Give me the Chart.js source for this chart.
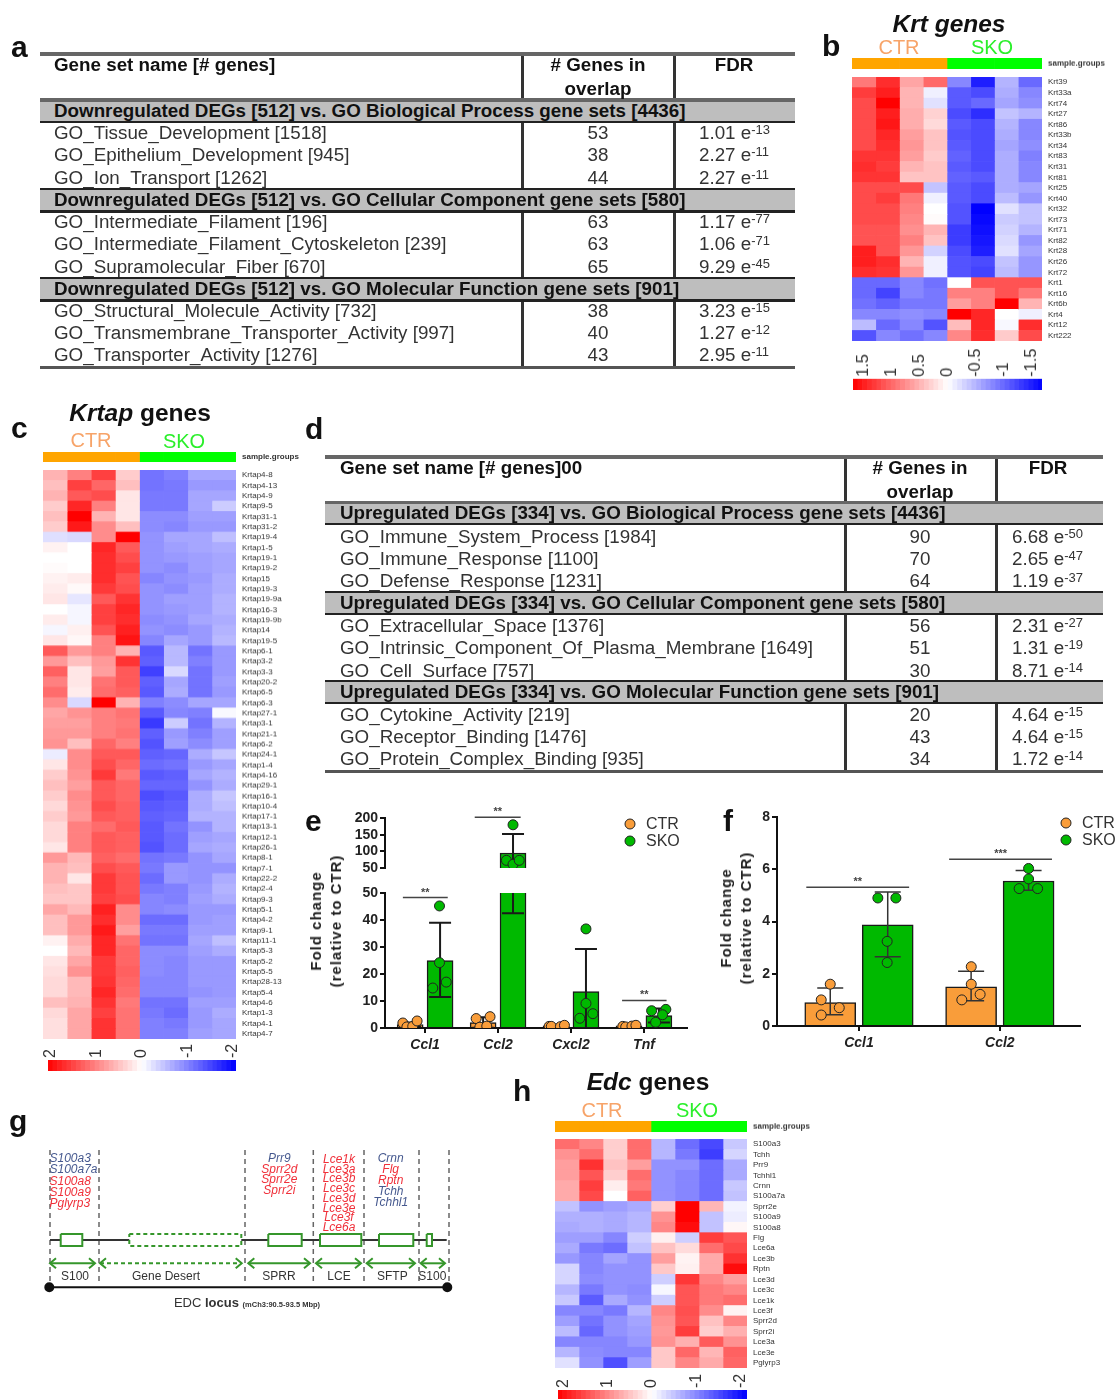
<!DOCTYPE html>
<html>
<head>
<meta charset="utf-8">
<title>Skin gene expression figure</title>
<script src="https://cdn.jsdelivr.net/npm/chart.js@4"></script>
<style>
    html, body { margin: 0; background: #fff; }
    #page { position: relative; width: 1120px; height: 1399px; overflow: hidden; font-family: 'Liberation Sans', Arial, sans-serif; color: #222; filter: blur(0.4px); }
    #page canvas { position: absolute; }
    .txt { position: absolute; white-space: nowrap; transform: translateY(-50%); }
    .mid { transform: translate(-50%, -50%); }
    .rot { transform: translate(-50%, -50%) rotate(-90deg); font-weight: bold; text-align: center; line-height: 20px; letter-spacing: 1px; font-size: 15px; }
    .rule { position: absolute; }
    .tbl { font-size: 18.8px; color: #333; }
    .tbl b { color: #111; }
    .tbl sup { font-size: 13px; line-height: 0; vertical-align: 5px; }
    .letter { font-size: 30px; font-weight: bold; color: #111; }
    .head { font-size: 24.5px; font-weight: bold; color: #111; }
    .dot { position: absolute; width: 9px; height: 9px; border: 1px solid #222; border-radius: 50%; transform: translate(-50%, -50%); }
</style>
</head>
<body>
<div id="page"></div>
<script>
// table a
const tableAHeader = ['Gene set name [# genes]', '# Genes in', 'overlap', 'FDR'];
const tableABands = [
    'Downregulated DEGs [512] vs. GO Biological Process gene sets [4436]',
    'Downregulated DEGs [512] vs. GO Cellular Component gene sets [580]',
    'Downregulated DEGs [512] vs. GO Molecular Function gene sets [901]'
];
const tableANames = ['GO_Tissue_Development [1518]', 'GO_Epithelium_Development [945]', 'GO_Ion_Transport [1262]',
    'GO_Intermediate_Filament [196]', 'GO_Intermediate_Filament_Cytoskeleton [239]', 'GO_Supramolecular_Fiber [670]',
    'GO_Structural_Molecule_Activity [732]', 'GO_Transmembrane_Transporter_Activity [997]', 'GO_Transporter_Activity [1276]'];
const tableACounts = [53, 38, 44, 63, 63, 65, 38, 40, 43];
const tableAFdr = [['1.01', '-13'], ['2.27', '-11'], ['2.27', '-11'], ['1.17', '-77'], ['1.06', '-71'], ['9.29', '-45'], ['3.23', '-15'], ['1.27', '-12'], ['2.95', '-11']];

// table d
const tableDHeader = ['Gene set name [# genes]00', '# Genes in', 'overlap', 'FDR'];
const tableDBands = [
    'Upregulated DEGs [334] vs. GO Biological Process gene sets [4436]',
    'Upregulated DEGs [334] vs. GO Cellular Component gene sets [580]',
    'Upregulated DEGs [334] vs. GO Molecular Function gene sets [901]'
];
const tableDNames = ['GO_Immune_System_Process [1984]', 'GO_Immune_Response [1100]', 'GO_Defense_Response [1231]',
    'GO_Extracellular_Space [1376]', 'GO_Intrinsic_Component_Of_Plasma_Membrane [1649]', 'GO_Cell_Surface [757]',
    'GO_Cytokine_Activity [219]', 'GO_Receptor_Binding [1476]', 'GO_Protein_Complex_Binding [935]'];
const tableDCounts = [90, 70, 64, 56, 51, 30, 20, 43, 34];
const tableDFdr = [['6.68', '-50'], ['2.65', '-47'], ['1.19', '-37'], ['2.31', '-27'], ['1.31', '-19'], ['8.71', '-14'], ['4.64', '-15'], ['4.64', '-15'], ['1.72', '-14']];

// heatmap b
const krtGenes = ['Krt39', 'Krt33a', 'Krt74', 'Krt27', 'Krt86', 'Krt33b', 'Krt34', 'Krt83', 'Krt31', 'Krt81', 'Krt25', 'Krt40', 'Krt32', 'Krt73', 'Krt71', 'Krt82', 'Krt28', 'Krt26', 'Krt72', 'Krt1', 'Krt16', 'Krt6b', 'Krt4', 'Krt12', 'Krt222'];
const krtValues = [
    [.9, 1.4, .6, 1.0, -.8, -1.5, -.5, -1.0],
    [1.3, 1.5, .5, -.1, -1.1, -1.2, -.55, -.8],
    [1.2, 1.7, .5, -.2, -1.1, -1.0, -.6, -.75],
    [1.2, 1.5, .55, .3, -1.2, -1.4, -.4, -.5],
    [1.2, 1.55, .55, .25, -1.1, -1.2, -.5, -.8],
    [1.2, 1.45, .65, .4, -1.15, -1.2, -.55, -.8],
    [1.2, 1.4, .7, .4, -1.1, -1.2, -.6, -.75],
    [1.35, 1.35, .65, .35, -1.05, -1.2, -.55, -.85],
    [1.4, 1.3, .5, .4, -1.1, -1.2, -.55, -.8],
    [1.35, 1.35, .4, .4, -1.05, -1.1, -.55, -.8],
    [1.2, 1.2, 1.2, -.4, -1.1, -1.2, -.55, -.6],
    [1.2, 1.3, .9, -.1, -1.1, -1.2, -.45, -.7],
    [1.2, 1.2, .85, 0, -1.15, -1.7, -.2, -.4],
    [1.2, 1.2, .8, .03, -1.15, -1.65, -.35, -.4],
    [1.15, 1.15, .75, .5, -1.3, -1.6, -.3, -.5],
    [1.15, 1.15, .85, .4, -1.3, -1.55, -.25, -.7],
    [1.5, 1.15, .7, -.3, -1.2, -1.5, -.2, -.6],
    [1.5, 1.4, .5, -.1, -1.15, -1.2, -.4, -.7],
    [1.4, 1.35, .7, -.1, -1.15, -1.25, -.45, -.7],
    [-1, -1, -.8, -.95, 0, 1.15, 1.15, 1.15],
    [-1, -1.25, -.8, -.9, .85, .85, 1.15, .9],
    [-.95, -1.05, -.9, -.9, .65, .85, 1.7, .5],
    [-.8, -.8, -.75, -.8, 1.7, 1.45, 0, -.1],
    [-.45, -1, -.8, -1.15, .45, 1.45, -.05, 1.4],
    [-1.15, -.8, -.95, -.8, .8, 1.4, .35, 1.2]
];

// heatmap c
const krtapGenes = ['Krtap4-8', 'Krtap4-13', 'Krtap4-9', 'Krtap9-5', 'Krtap31-1', 'Krtap31-2', 'Krtap19-4', 'Krtap1-5', 'Krtap19-1', 'Krtap19-2', 'Krtap15', 'Krtap19-3', 'Krtap19-9a', 'Krtap16-3', 'Krtap19-9b', 'Krtap14', 'Krtap19-5', 'Krtap6-1', 'Krtap3-2', 'Krtap3-3', 'Krtap20-2', 'Krtap6-5', 'Krtap6-3', 'Krtap27-1', 'Krtap3-1', 'Krtap21-1', 'Krtap6-2', 'Krtap24-1', 'Krtap1-4', 'Krtap4-16', 'Krtap29-1', 'Krtap16-1', 'Krtap10-4', 'Krtap17-1', 'Krtap13-1', 'Krtap12-1', 'Krtap26-1', 'Krtap8-1', 'Krtap7-1', 'Krtap22-2', 'Krtap2-4', 'Krtap9-3', 'Krtap5-1', 'Krtap4-2', 'Krtap9-1', 'Krtap11-1', 'Krtap5-3', 'Krtap5-2', 'Krtap5-5', 'Krtap28-13', 'Krtap5-4', 'Krtap4-6', 'Krtap1-3', 'Krtap4-1', 'Krtap4-7'];
const krtapValues = [
    [.6, 1.0, 1.5, .4, -1.1, -1.0, -.7, -.7],
    [.5, 1.5, 1.2, .5, -1.1, -1.05, -.8, -.8],
    [.6, 1.3, 1.4, .2, -1.05, -1.05, -.7, -.7],
    [.4, 1.7, 1.0, .2, -1.05, -1.05, -.7, -.4],
    [.5, 2, .6, .2, -.9, -.9, -.75, -.75],
    [.4, 1.8, .9, .5, -.9, -.95, -.8, -.8],
    [-.25, -.3, .9, 2, -.85, -.7, -.7, -.5],
    [.1, 0, 1.7, 1.3, -.85, -.75, -.7, -.65],
    [0, 0, 1.65, 1.4, -.85, -.8, -.75, -.7],
    [.03, 0, 1.65, 1.5, -.85, -.9, -.75, -.7],
    [.1, .15, 1.65, 1.35, -.95, -.85, -.8, -.65],
    [.15, .05, 1.55, 1.4, -.85, -.9, -.75, -.65],
    [.2, -.2, 1.3, 1.6, -.85, -.75, -.75, -.6],
    [0, -.07, 1.5, 1.7, -.85, -.8, -.75, -.6],
    [.15, -.07, 1.5, 1.65, -.9, -.85, -.7, -.65],
    [-.07, .12, 1.35, 1.75, -.85, -.9, -.8, -.6],
    [.2, .06, 1.0, 1.85, -.95, -.7, -.8, -.55],
    [1.3, .8, 1.0, .6, -1.3, -.55, -1.1, -.8],
    [.8, .5, .8, 1.6, -1.25, -.55, -1.0, -.8],
    [1.25, .2, .75, 1.3, -1.5, -.3, -1.1, -.8],
    [1.0, .2, 1.1, 1.3, -1.25, -.7, -1.1, -.75],
    [1.15, .15, 1.15, 1.25, -1.3, -.65, -1.1, -.8],
    [.9, -.3, 2, .6, -1, -.9, -.7, -.7],
    [.7, .85, 1.0, 1.1, -1.3, -.95, -1.0, -.05],
    [.75, .75, 1.0, 1.05, -1.55, -.4, -1.1, -.6],
    [.8, .8, 1.0, 1.1, -1.25, -.8, -1.0, -.75],
    [.85, .5, 1.2, 1.0, -1.35, -.75, -.9, -.75],
    [-.15, .9, 1.3, 1.3, -1.25, -1.2, -.65, -.45],
    [.2, .9, 1.4, 1.2, -1.15, -1.1, -.8, -.7],
    [.4, .85, 1.55, 1.05, -1.3, -1.25, -.7, -.6],
    [.5, .75, 1.3, 1.2, -1.2, -1.2, -.85, -.65],
    [.4, .9, 1.3, 1.2, -1.4, -1.3, -.65, -.45],
    [.3, .85, 1.4, 1.25, -1.3, -1.25, -.65, -.5],
    [.4, .8, 1.3, 1.25, -1.25, -1.2, -.6, -.6],
    [.3, 1, 1.15, 1.3, -1.3, -1.1, -.85, -.6],
    [.3, 1, 1.3, 1.25, -1.3, -1.15, -.75, -.7],
    [.2, 1, 1.3, 1.25, -1.35, -1.15, -.7, -.65],
    [.8, .55, 1.25, 1.15, -1.1, -1.05, -.85, -.7],
    [.6, .5, 1.4, 1.3, -1.05, -.8, -.85, -.85],
    [.6, .2, 1.55, 1.35, -1.15, -.8, -.85, -.65],
    [.5, .45, 1.55, 1.35, -1.05, -1, -.8, -.6],
    [.45, .45, 1.5, 1.4, -.95, -1, -.75, -.65],
    [.7, .55, 1.75, .9, -.95, -.9, -.8, -.8],
    [.5, .8, 1.65, .9, -1.15, -1.15, -.8, -.75],
    [.5, .8, 1.8, .75, -1.05, -1.05, -.75, -.75],
    [.1, .65, 1.7, 1.1, -1.1, -1.1, -.7, -.5],
    [0, .55, 1.7, 1.2, -.9, -.9, -.75, -.65],
    [.2, .7, 1.55, 1.2, -.9, -.95, -.8, -.8],
    [.25, .85, 1.55, 1.25, -.9, -.95, -.8, -.8],
    [.3, .55, 1.6, 1.2, -.95, -.95, -.8, -.8],
    [.3, .55, 1.7, 1.15, -.95, -.95, -.85, -.8],
    [.5, .6, 1.6, 1.05, -1.1, -1.1, -.75, -.75],
    [.3, .7, 1.5, 1.1, -1.05, -1.15, -.8, -.65],
    [.25, .7, 1.6, 1.1, -1.0, -1.05, -.8, -.7],
    [.25, .7, 1.6, 1.1, -1.0, -1, -.75, -.7]
];

// heatmap h
const edcGenes = ['S100a3', 'Tchh', 'Prr9', 'Tchhl1', 'Crnn', 'S100a7a', 'Sprr2e', 'S100a9', 'S100a8', 'Flg', 'Lce6a', 'Lce3b', 'Rptn', 'Lce3d', 'Lce3c', 'Lce1k', 'Lce3f', 'Sprr2d', 'Sprr2i', 'Lce3a', 'Lce3e', 'Pglyrp3'];
const edcValues = [
    [1.2, 1.0, .4, 1.2, -.6, -1.2, -1.5, -.45],
    [.9, 1.2, .4, 1.2, -.6, -1.1, -1.6, -.35],
    [.8, 1.7, .5, .8, -.9, -.9, -1.2, -.7],
    [.8, 1.4, .4, 1.2, -.9, -1, -1.2, -.7],
    [.7, 1.6, .15, 1.1, -.9, -1, -1.2, -.45],
    [.7, 1.5, 0, 1.3, -.9, -1, -1.2, -.5],
    [-.5, -.9, -.8, -.7, .4, 2.1, .6, -.1],
    [-.65, -.65, -.7, -.6, .9, 2.1, -.5, -.15],
    [-.7, -.65, -.7, -.6, 1.0, 2.0, -.5, .07],
    [-.8, -.8, -1, -.4, .12, -.4, 1.6, 1.4],
    [-.7, -1.1, -1.2, -.5, .5, .3, 1.2, 1.5],
    [-.85, -1, -.75, -.9, .8, .1, .7, 1.7],
    [-.35, -1, -.9, -.9, .45, .12, .7, 2],
    [-.35, -.95, -.9, -.9, -.4, 1.65, 1, .8],
    [-.6, -1.1, -.9, -.95, -.07, 1.4, 1.1, 1.0],
    [-.45, -1.35, -.7, -.9, -.4, 1.4, 1.1, 1.2],
    [-1, -1, -1.1, -.6, 1, 1.45, .95, .1],
    [-.8, -1.15, -.9, -.75, .9, 1.4, .5, 1],
    [-.55, -1.25, -.9, -.8, .85, 1.6, .4, .65],
    [-1, -1, -1, -.85, .9, .65, 1.35, .9],
    [-.6, -.95, -1, -1, .45, 1.25, .6, 1.3],
    [-.25, -.9, -1.45, -.8, .45, 1, .7, 1.25]
];

// color key steps, as a share of the key's range
const keyLevels = [-1, -.95, -.9, -.85, -.8, -.75, -.7, -.65, -.6, -.55, -.5, -.45, -.4, -.35, -.3, -.25, -.2, -.15, -.1, -.05, 0, .05, .1, .15, .2, .25, .3, .35, .4, .45, .5, .55, .6, .65, .7, .75, .8, .85, .9, .95, 1];
const krtKeyTicks = [1.5, 1, 0.5, 0, -0.5, -1, -1.5];
const wideKeyTicks = [2, 1, 0, -1, -2];
const sampleGroups = ['CTR', 'CTR', 'CTR', 'CTR', 'SKO', 'SKO', 'SKO', 'SKO'];

// bars e
const eGenes = ['Ccl1', 'Ccl2', 'Cxcl2', 'Tnf'];
const eCtrMean = [1.3, 2, 0.8, 0.8];
const eCtrLow = [0.6, 0.1, 0.5, 0.5];
const eCtrHigh = [2, 4, 1.1, 1.1];
const eSkoMean = [25, 95, 13.5, 4.6];
const eSkoLow = [11.5, 42.5, 0, 2];
const eSkoHigh = [39, 152, 29.3, 7.2];
const eCtrPoints = [[-.305, 1.85], [-.25, .4], [-.17, .6], [-.11, 2.6], [.70, 3.5], [.75, .3], [.845, .7], [.89, 4.2],
    [1.70, .6], [1.73, .6], [1.855, .5], [1.91, 1], [2.71, .6], [2.75, .4], [2.835, .7], [2.89, 1]];
const eSkoPoints = [[.197, 45.2], [.197, 24.2], [.105, 14.8], [.29, 17], [1.205, 179.6], [1.114, 73], [1.205, 61], [1.29, 73],
    [2.205, 36.7], [2.205, 9.1], [2.12, 3.6], [2.30, 5.3], [3.105, 6.4], [3.30, 6.9], [3.255, 4.9], [3.16, 2.1]];
const eLowerSig = [[-.305, .31, 48.3, '**'], [2.7, 3.31, 10.2, '**']];
const eUpperSig = [[.68, 1.31, 201.9, '**']];

// bars f
const fGenes = ['Ccl1', 'Ccl2'];
const fCtrMean = [0.9, 1.5];
const fCtrLow = [0.43, 0.97];
const fCtrHigh = [1.45, 2.1];
const fSkoMean = [3.87, 5.55];
const fSkoLow = [2.65, 5.2];
const fSkoHigh = [5.13, 5.95];
const fCtrPoints = [[-.204, 1.6], [-.268, 1.0], [-.14, .7], [-.268, .42], [.797, 2.27], [.797, 1.6], [.86, 1.21], [.73, 1.0]];
const fSkoPoints = [[.134, 4.9], [.262, 4.9], [.2, 3.24], [.2, 2.43], [1.204, 6.03], [1.204, 5.63], [1.137, 5.26], [1.268, 5.26]];
const fSig = [[-.374, .356, 5.31, '**'], [.64, 1.37, 6.38, '***']];

// locus g
const locusSeparators = [50, 99, 245, 313.3, 364, 419, 449];
const locusBoxes = [[60.7, 82.3], [129.3, 241.3], [268.3, 301.7], [320, 361.3], [379, 413.3], [426.7, 432]];
const locusSpans = [[50, 95], [100, 241.7], [248.3, 310], [316, 361], [366.7, 415], [420.7, 445]];
const locusSpanNames = ['S100', 'Gene Desert', 'SPRR', 'LCE', 'SFTP', 'S100'];
const locusSpanCentres = [75, 166, 279, 339, 392.3, 432.3];
const s100Genes = ['S100a3', 'S100a7a', 'S100a8', 'S100a9', 'Pglyrp3'];
const sprrGenes = ['Prr9', 'Sprr2d', 'Sprr2e', 'Sprr2i'];
const lceGenes = ['Lce1k', 'Lce3a', 'Lce3b', 'Lce3c', 'Lce3d', 'Lce3e', 'Lce3f', 'Lce6a'];
const sftpGenes = ['Crnn', 'Flg', 'Rptn', 'Tchh', 'Tchhl1'];
const locusBlue = ['S100a3', 'S100a7a', 'Prr9', 'Crnn', 'Tchh', 'Tchhl1'];

const ORANGE = '#F99D3A';
const GREEN = '#00B900';
const FONT = "'Liberation Sans', Arial, sans-serif";
Chart.defaults.font.family = FONT;
Chart.defaults.animation = false;
Chart.defaults.plugins.legend.display = false;
Chart.defaults.plugins.tooltip.enabled = false;

const page = document.getElementById('page');

function addText(html, x, y, cls, style) {
    const el = document.createElement('div');
    el.className = 'txt ' + (cls || '');
    el.innerHTML = html;
    el.style.left = x + 'px';
    el.style.top = y + 'px';
    if (style) el.style.cssText += style;
    page.appendChild(el);
    return el;
}

function addRule(x, y, w, h, color) {
    const el = document.createElement('div');
    el.className = 'rule';
    el.style.cssText = `left:${x}px;top:${y}px;width:${w}px;height:${h}px;background:${color}`;
    page.appendChild(el);
}

function addCanvas(left, top, width, height) {
    const c = document.createElement('canvas');
    c.width = width;
    c.height = height;
    c.style.left = left + 'px';
    c.style.top = top + 'px';
    c.style.width = width + 'px';
    c.style.height = height + 'px';
    page.appendChild(c);
    return c;
}

// keeps the axis from pushing the plot area around
function fixSize(size) {
    return function(scale) {
        if (scale.isHorizontal()) scale.height = size;
        else scale.width = size;
        scale.paddingTop = scale.paddingBottom = scale.paddingLeft = scale.paddingRight = 0;
    };
}

function buildTable(t) {
    const left = t.left, width = t.right - t.left;
    addRule(t.sep1, t.top, 2.5, t.bottom - t.top, '#333');
    addRule(t.sep2, t.top, 2.5, t.bottom - t.top, '#333');
    addRule(left, t.top, width, 3.5, '#666');
    t.bandTops.forEach((y, i) => {
        addRule(left, y, width, t.bandHeight, '#BEBEBE');
        addRule(left, y - 2, width, i === 0 ? 3.5 : 2.5, i === 0 ? '#666' : '#222');
        addRule(left, y + t.bandHeight - 1, width, 2.5, '#222');
        addText('<b>' + t.bands[i] + '</b>', t.textX, y + t.bandHeight / 2, 'tbl');
    });
    addRule(left, t.bottom, width, 3, '#555');
    addText('<b>' + t.header[0] + '</b>', t.textX, t.headY, 'tbl');
    addText('<b>' + t.header[1] + '</b>', t.countX, t.headY, 'tbl mid');
    addText('<b>' + t.header[2] + '</b>', t.countX, t.headY + 24, 'tbl mid');
    addText('<b>' + t.header[3] + '</b>', t.fdrHeadX, t.headY, 'tbl mid');
    t.names.forEach((name, i) => {
        addText(name, t.textX, t.rowYs[i], 'tbl');
        addText(t.counts[i], t.countX, t.rowYs[i], 'tbl mid');
        addText(t.fdr[i][0] + ' e<sup>' + t.fdr[i][1] + '</sup>', t.fdrX, t.rowYs[i], 'tbl');
    });
}

buildTable({
    left: 40, right: 795, sep1: 521, sep2: 673, top: 52, bottom: 366, textX: 54, countX: 598, fdrX: 699, fdrHeadX: 734, headY: 65,
    bandTops: [100, 189.5, 278.5], bandHeight: 21.5, rowYs: [133, 155, 178, 222, 244, 267, 311, 333, 355],
    header: tableAHeader, bands: tableABands, names: tableANames, counts: tableACounts, fdr: tableAFdr
});
buildTable({
    left: 325, right: 1103, sep1: 844, sep2: 995, top: 455, bottom: 770, textX: 340, countX: 920, fdrX: 1012, fdrHeadX: 1048, headY: 468,
    bandTops: [502.5, 592.5, 681.5], bandHeight: 21, rowYs: [537, 559, 581, 626, 648, 671, 715, 737, 759],
    header: tableDHeader, bands: tableDBands, names: tableDNames, counts: tableDCounts, fdr: tableDFdr
});

// panel letters
[['a', 11, 47], ['b', 822, 46], ['c', 11, 428], ['d', 305, 429], ['e', 305, 821], ['f', 723, 821], ['g', 9, 1121], ['h', 513, 1091]].forEach(l => {
    addText(l[0], l[1], l[2], 'letter');
});

// titles and group names
addText('<i>Krt genes</i>', 949, 24, 'head mid');
addText('<i>Krtap</i> genes', 140, 413, 'head mid');
addText('<i>Edc</i> genes', 648, 1082, 'head mid');
[[899, 47, 992, 47], [91, 440, 184, 441], [602, 1110, 697, 1110]].forEach(p => {
    addText('CTR', p[0], p[1], 'mid', 'font-size:20px;color:#F7A469');
    addText('SKO', p[2], p[3], 'mid', 'font-size:20px;color:#2BEF2B');
});

function heatColor(v, max) {
    const t = Math.min(1, Math.abs(v) / max);
    const c = Math.round(255 * (1 - t));
    return v >= 0 ? `rgb(255,${c},${c})` : `rgb(${c},${c},255)`;
}

function cellDatasets(rows, colorOf) {
    return rows[0].map((_, col) => ({
        data: rows.map(() => [col, col + 1]),
        backgroundColor: rows.map(r => colorOf(r[col])),
        barPercentage: 1,
        categoryPercentage: 1,
        grouped: false,
        borderWidth: 0
    }));
}

function heatChart(box, labels, rows, colorOf, tickFont) {
    const margin = 70;
    new Chart(addCanvas(box.left, box.top, box.width + margin, box.height), {
        type: 'bar',
        data: { labels: labels, datasets: cellDatasets(rows, colorOf) },
        options: {
            indexAxis: 'y',
            responsive: false,
            devicePixelRatio: 1,
            layout: { padding: 0 },
            scales: {
                x: { type: 'linear', display: false, min: 0, max: 8 },
                y: {
                    position: 'right',
                    afterFit: fixSize(margin),
                    grid: { display: false, drawTicks: false },
                    border: { display: false },
                    ticks: { autoSkip: false, padding: 6, color: '#333', font: tickFont }
                }
            }
        }
    });
}

function keyChart(box, ticks, range, xMin, xMax) {
    const topMargin = 38;
    const levels = keyLevels.map(l => l * range);
    const datasets = levels.slice(1).map((lv, i) => ({
        data: [[levels[i], lv]],
        backgroundColor: heatColor((levels[i] + lv) / 2, range),
        barPercentage: 1,
        categoryPercentage: 1,
        grouped: false,
        borderWidth: 0
    }));
    new Chart(addCanvas(box.left - 14, box.top - topMargin, box.width + 28, box.height + topMargin), {
        type: 'bar',
        data: { labels: ['key'], datasets: datasets },
        options: {
            indexAxis: 'y',
            responsive: false,
            devicePixelRatio: 1,
            layout: { padding: { left: 14, right: 14 } },
            scales: {
                x: {
                    type: 'linear',
                    position: 'top',
                    reverse: true,
                    min: xMin,
                    max: xMax,
                    afterFit: fixSize(topMargin),
                    afterBuildTicks: s => { s.ticks = ticks.map(v => ({ value: v })); },
                    grid: { display: false, drawTicks: false },
                    border: { display: false },
                    ticks: { autoSkip: false, minRotation: 90, maxRotation: 90, padding: 2, labelOffset: 19, color: '#333', font: { size: 16 }, callback: v => String(v) }
                },
                y: { display: false }
            }
        }
    });
}

function heatPanel(p) {
    const width = p.right - p.left;
    heatChart({ left: p.left, top: p.annotTop, width: width, height: p.annotHeight }, ['sample.groups'], [sampleGroups],
        g => (g === 'CTR' ? '#FFA500' : '#00FF00'), { size: 8, weight: 'bold' });
    heatChart({ left: p.left, top: p.top, width: width, height: p.bottom - p.top }, p.genes, p.values,
        v => heatColor(v, p.max), { size: 8 });
    keyChart({ left: p.keyLeft, top: p.keyTop, width: p.right - p.keyLeft, height: p.keyHeight }, p.ticks, p.range, p.keyMin, p.keyMax);
}

heatPanel({
    left: 852, right: 1042, top: 76.5, bottom: 340.5, annotTop: 58, annotHeight: 10.5, genes: krtGenes, values: krtValues, max: 1.7,
    keyLeft: 853, keyTop: 378, keyHeight: 11.5, ticks: krtKeyTicks, range: 1.7, keyMin: -1.68, keyMax: 1.7
});
heatPanel({
    left: 43, right: 236, top: 470, bottom: 1038.7, annotTop: 452, annotHeight: 10, genes: krtapGenes, values: krtapValues, max: 2,
    keyLeft: 48, keyTop: 1060, keyHeight: 11, ticks: wideKeyTicks, range: 2.07, keyMin: -2.07, keyMax: 2.07
});
heatPanel({
    left: 554.5, right: 747, top: 1139.3, bottom: 1368.3, annotTop: 1121, annotHeight: 10.5, genes: edcGenes, values: edcValues, max: 2.1,
    keyLeft: 558, keyTop: 1390, keyHeight: 9, ticks: wideKeyTicks, range: 2.15, keyMin: -2.15, keyMax: 2.14
});

// draws the error bars just after the bars so the points land on top
const errorBars = {
    id: 'errorBars',
    afterDatasetDraw(chart, args) {
        const ds = chart.data.datasets[args.index];
        if (!ds.errLow) return;
        const { ctx, chartArea, scales } = chart;
        ctx.save();
        ctx.beginPath();
        ctx.rect(chartArea.left - 20, chartArea.top, chartArea.right - chartArea.left + 40, chartArea.bottom - chartArea.top);
        ctx.clip();
        ctx.strokeStyle = ds.errColor;
        ctx.lineWidth = ds.errWidth;
        ds.data.forEach((d, i) => {
            const x = scales.x.getPixelForValue(d.x);
            const lo = scales.y.getPixelForValue(ds.errLow[i]);
            const hi = scales.y.getPixelForValue(ds.errHigh[i]);
            ctx.beginPath();
            ctx.moveTo(x, lo); ctx.lineTo(x, hi);
            ctx.moveTo(x - ds.capHalf, lo); ctx.lineTo(x + ds.capHalf, lo);
            ctx.moveTo(x - ds.capHalf, hi); ctx.lineTo(x + ds.capHalf, hi);
            ctx.stroke();
        });
        ctx.restore();
    }
};

const sigBars = {
    id: 'sigBars',
    afterDraw(chart, args, opts) {
        const { ctx, scales } = chart;
        ctx.save();
        ctx.strokeStyle = '#444';
        ctx.fillStyle = '#444';
        ctx.lineWidth = 1.5;
        ctx.textAlign = 'center';
        ctx.textBaseline = 'middle';
        ctx.font = 'bold 11px ' + FONT;
        (opts.items || []).forEach(s => {
            const y = scales.y.getPixelForValue(s[2]);
            ctx.beginPath();
            ctx.moveTo(scales.x.getPixelForValue(s[0]), y);
            ctx.lineTo(scales.x.getPixelForValue(s[1]), y);
            ctx.stroke();
            ctx.fillText(s[3], scales.x.getPixelForValue((s[0] + s[1]) / 2), y - 5);
        });
        ctx.restore();
    }
};

function barDataset(means, low, high, offset, color, style) {
    return {
        type: 'bar',
        data: means.map((m, i) => ({ x: i + offset, y: m })),
        errLow: low,
        errHigh: high,
        errColor: style.errColor,
        errWidth: style.errWidth,
        capHalf: style.capHalf,
        backgroundColor: color,
        borderColor: '#1a1a1a',
        borderWidth: 1.5,
        barThickness: style.barWidth,
        grouped: false,
        order: 2
    };
}

function pointDataset(points, color, keep) {
    return {
        type: 'scatter',
        data: points.filter(p => keep(p[1])).map(p => ({ x: p[0], y: p[1] })),
        pointRadius: 5,
        pointBackgroundColor: color,
        pointBorderColor: '#222',
        pointBorderWidth: 1,
        order: 1
    };
}

function barPanel(p) {
    const m = p.margins;
    const boldTick = { size: 14, weight: 'bold' };
    const axisGrid = { drawOnChartArea: false, color: '#111', lineWidth: 2, tickLength: 5, offset: false };
    new Chart(addCanvas(p.left - m.left, p.top - m.top, p.width + m.left + m.right, p.height + m.top + m.bottom), {
        type: 'bar',
        data: { datasets: p.datasets },
        plugins: [errorBars, sigBars],
        options: {
            responsive: false,
            devicePixelRatio: 1,
            layout: { autoPadding: false, padding: { top: m.top, right: m.right, left: 0, bottom: p.showX ? 0 : m.bottom } },
            plugins: { sigBars: { items: p.sig } },
            scales: {
                x: {
                    type: 'linear',
                    offset: false,
                    display: p.showX,
                    min: p.xMin,
                    max: p.xMax,
                    afterFit: fixSize(m.bottom),
                    afterBuildTicks: s => { s.ticks = p.genes.map((g, i) => ({ value: i })); },
                    grid: axisGrid,
                    border: { color: '#111', width: 2 },
                    ticks: { autoSkip: false, maxRotation: 0, padding: 4, color: '#222', font: { size: 14, weight: 'bold', style: 'italic' }, callback: v => p.genes[v] }
                },
                y: {
                    min: p.yMin,
                    max: p.yMax,
                    afterFit: fixSize(m.left),
                    grid: axisGrid,
                    border: { color: '#111', width: 2 },
                    ticks: { stepSize: p.yStep, autoSkip: false, padding: 2, color: '#222', font: boldTick }
                }
            }
        }
    });
}

const eStyle = { barWidth: 26, capHalf: 11, errColor: '#1a1a1a', errWidth: 2 };
const eBars = [
    barDataset(eCtrMean, eCtrLow, eCtrHigh, -0.205, ORANGE, eStyle),
    barDataset(eSkoMean, eSkoLow, eSkoHigh, 0.205, GREEN, eStyle)
];
barPanel({
    left: 385, top: 818, width: 302, height: 54.3, margins: { left: 40, top: 14, right: 4, bottom: 4 }, showX: false,
    genes: eGenes, xMin: -0.55, xMax: 3.59, yMin: 50, yMax: 200, yStep: 50, sig: eUpperSig,
    datasets: eBars.concat([pointDataset(eCtrPoints, ORANGE, y => y >= 50), pointDataset(eSkoPoints, GREEN, y => y >= 50)])
});
barPanel({
    left: 385, top: 892.7, width: 302, height: 135, margins: { left: 40, top: 14, right: 4, bottom: 24 }, showX: true,
    genes: eGenes, xMin: -0.55, xMax: 3.59, yMin: 0, yMax: 50, yStep: 10, sig: eLowerSig,
    datasets: eBars.concat([pointDataset(eCtrPoints, ORANGE, y => y < 50), pointDataset(eSkoPoints, GREEN, y => y < 50)])
});

const fStyle = { barWidth: 51, capHalf: 13, errColor: '#333', errWidth: 1.5 };
barPanel({
    left: 777, top: 816.7, width: 303, height: 209.3, margins: { left: 30, top: 10, right: 4, bottom: 24 }, showX: true,
    genes: fGenes, xMin: -0.582, xMax: 1.569, yMin: 0, yMax: 8, yStep: 2, sig: fSig,
    datasets: [
        barDataset(fCtrMean, fCtrLow, fCtrHigh, -0.204, ORANGE, fStyle),
        barDataset(fSkoMean, fSkoLow, fSkoHigh, 0.204, GREEN, fStyle),
        pointDataset(fCtrPoints, ORANGE, () => true),
        pointDataset(fSkoPoints, GREEN, () => true)
    ]
});

// axis titles and legends of e and f
addText('Fold change<br>(relative to CTR)', 326, 921, 'rot');
addText('Fold change<br>(relative to CTR)', 736, 918, 'rot');
[[629.5, 646, 824, 841], [1065.5, 1082, 823, 840]].forEach(l => {
    [[l[2], ORANGE, 'CTR'], [l[3], GREEN, 'SKO']].forEach(row => {
        const dot = document.createElement('div');
        dot.className = 'dot';
        dot.style.cssText = `left:${l[0]}px;top:${row[0]}px;background:${row[1]}`;
        page.appendChild(dot);
        addText(row[2], l[1], row[0], '', 'font-size:16px;color:#333');
    });
});

// locus diagram of g, x and y both in the diagram's own units
const LOCUS_TOP = 1150, LOCUS_BOTTOM = 1281.7, TRACK = 1240, BOX_HALF = 6, ARROW = 1263.3, BASE = 1287.3, DESERT = 1;
const locusGreen = '#35962B';

function line(points, color, width, extra) {
    return Object.assign({
        type: 'scatter', showLine: true, data: points.map(p => ({ x: p[0], y: p[1] })),
        borderColor: color, borderWidth: width, pointRadius: 0, tension: 0, order: 3
    }, extra || {});
}

const locusData = [];
locusSeparators.forEach(x => {
    locusData.push(line([[x, LOCUS_TOP], [x, LOCUS_BOTTOM]], '#666', 1.5, { borderDash: [5, 4], order: 4 }));
});
locusData.push(line([[locusSeparators[0], TRACK], [446.7, TRACK]], '#333', 2));
locusBoxes.forEach((b, i) => {
    locusData.push(line([[b[0], TRACK - BOX_HALF], [b[1], TRACK - BOX_HALF], [b[1], TRACK + BOX_HALF], [b[0], TRACK + BOX_HALF], [b[0], TRACK - BOX_HALF]],
        locusGreen, 2, { fill: 'shape', backgroundColor: '#fff', order: 1, borderDash: i === DESERT ? [4, 3] : [] }));
});
locusSpans.forEach((s, i) => {
    const dash = i === DESERT ? [4, 3] : [];
    locusData.push(line([[s[0], ARROW], [s[1], ARROW]], locusGreen, 2, { borderDash: dash, order: 1 }));
    locusData.push(line([[s[0] + 6, ARROW - 5], [s[0], ARROW], [s[0] + 6, ARROW + 5]], locusGreen, 2, { order: 1 }));
    locusData.push(line([[s[1] - 6, ARROW - 5], [s[1], ARROW], [s[1] - 6, ARROW + 5]], locusGreen, 2, { order: 1 }));
});
locusData.push(line([[49.3, BASE], [447.3, BASE]], '#111', 2, { pointRadius: 4, pointBackgroundColor: '#111', pointBorderColor: '#111' }));

const locusText = {
    id: 'locusText',
    afterDraw(chart) {
        const { ctx, scales } = chart;
        const put = (text, x, y, align, font, color) => {
            ctx.textAlign = align;
            ctx.font = font;
            ctx.fillStyle = color;
            ctx.fillText(text, scales.x.getPixelForValue(x), scales.y.getPixelForValue(y));
        };
        ctx.save();
        ctx.textBaseline = 'middle';
        const geneCol = (genes, x, first, pitch, align) => genes.forEach((g, i) => {
            put(g, x, first + i * pitch, align, 'italic 12px ' + FONT, locusBlue.includes(g) ? '#46598F' : '#F0303A');
        });
        geneCol(s100Genes, 49.5, 1158.5, 11.4, 'left');
        geneCol(sprrGenes, 279.3, 1158.5, 10.8, 'center');
        geneCol(lceGenes, 339, 1159.5, 9.75, 'center');
        geneCol(sftpGenes, 390.7, 1159, 11, 'center');
        locusSpanNames.forEach((n, i) => put(n, locusSpanCentres[i], 1277, 'center', '12px ' + FONT, '#333'));
        ctx.restore();
    }
};

new Chart(addCanvas(40, 1145, 420, 150), {
    type: 'scatter',
    data: { datasets: locusData },
    plugins: [locusText],
    options: {
        responsive: false,
        devicePixelRatio: 1,
        layout: { autoPadding: false, padding: 0 },
        scales: {
            x: { display: false, min: 40, max: 460 },
            y: { display: false, min: 1145, max: 1295, reverse: true }
        }
    }
});
addText('EDC <b>locus</b> <span style="font-size:7.5px;font-weight:bold">(mCh3:90.5-93.5 Mbp)</span>', 247, 1302, 'mid', 'font-size:13px;color:#333');
</script>
</body>
</html>
